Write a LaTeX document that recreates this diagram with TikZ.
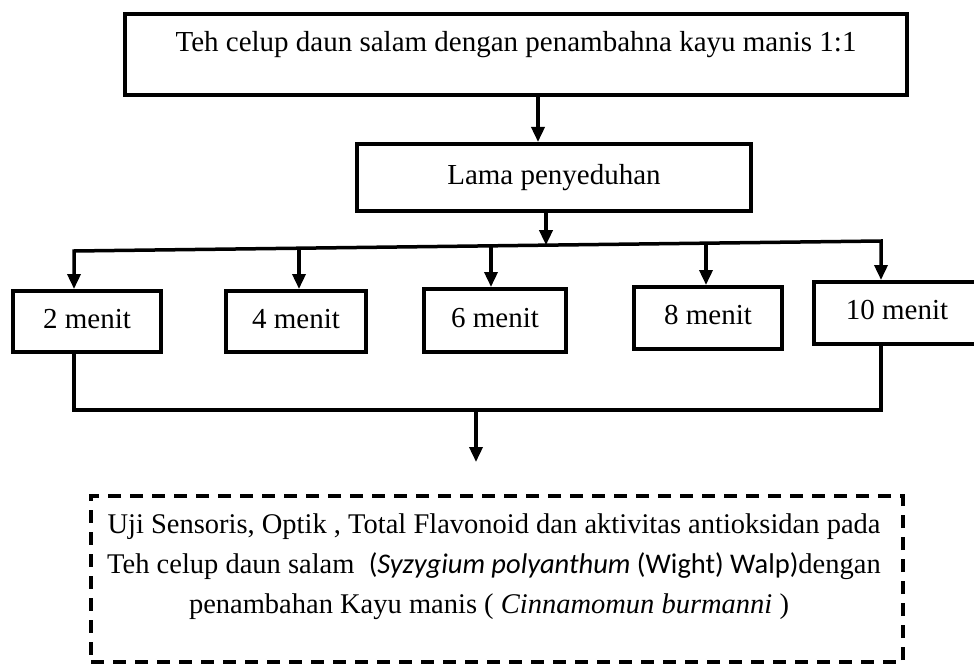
\documentclass[tikz,border=0pt]{standalone}
\usepackage{fontspec}
\setmainfont{Liberation Serif}
\newfontfamily\calibrifont{Carlito}
\usetikzlibrary{arrows.meta}
\begin{document}
\begin{tikzpicture}[x=1pt,y=-1pt,
  box/.style={draw, line width=4pt, inner sep=0pt, text height=20pt, text depth=7pt,
              font=\fontsize{29pt}{40pt}\selectfont},
  conn/.style={line width=3.5pt},
  arr/.style={conn, -{Triangle[length=15pt,width=13pt]}},
  dashbox/.style={draw, line width=4pt, dash pattern=on 13pt off 9pt, inner sep=0pt},
  txt/.style={inner sep=0pt, anchor=base, font=\fontsize{28.5pt}{40pt}\selectfont}
]
\useasboundingbox (0,0) rectangle (974,666);
\clip (0,0) rectangle (974,666);

% boxes
\node[box, minimum width=782pt, minimum height=81pt, text depth=25pt] (top) at (516,54.5)
  {Teh celup daun salam dengan penambahna kayu manis 1:1};
\node[box, minimum width=394pt, minimum height=67pt] (lama) at (554,177.5) {Lama penyeduhan};
\node[box, minimum width=148pt, minimum height=61pt] (m2) at (87,321.5) {2 menit};
\node[box, minimum width=140pt, minimum height=61pt] (m4) at (296,321.5) {4 menit};
\node[box, minimum width=142pt, minimum height=63pt] (m6) at (495,320.5) {6 menit};
\node[box, minimum width=148pt, minimum height=62pt] (m8) at (708,318) {8 menit};
\node[box, minimum width=166pt, minimum height=62pt] (m10) at (897,313) {10 menit};

\node[dashbox, minimum width=812pt, minimum height=166pt] (hasil) at (497,579) {};
\node[txt] (t1) at (494,533) {Uji Sensoris, Optik , Total Flavonoid dan aktivitas antioksidan pada};
\node[txt] (t2) at (494,573) {Teh celup daun salam\ \ {\calibrifont(\itshape Syzygium polyanthum\upshape{} (Wight) Walp)}dengan};
\node[txt] (t3) at (489,613) {penambahan Kayu manis ( \textit{Cinnamomun burmanni} )};

% coordinates
\coordinate (jt) at (538,120);
\coordinate (jl) at (546,245.2);
\coordinate (j2) at (74,251);
\coordinate (j4) at (299,248.2);
\coordinate (j6) at (491,245.8);
\coordinate (j8) at (706,243.2);
\coordinate (j10) at (881,241);
\coordinate (c2) at (74,410);
\coordinate (c10) at (881,410);
\coordinate (cm) at (476,410);
\coordinate (ce) at (476,462);

% connectors
\draw[arr] (top.south -| jt) -- (lama.north -| jt);
\draw[arr] (lama.south -| jl) -- (jl);
\draw[conn, {Triangle[length=15pt,width=13pt]}-{Triangle[length=15pt,width=13pt]}]
  (j2 |- m2.north) -- (j2) -- (j10) -- (j10 |- m10.north);
\draw[arr] (j4) -- (j4 |- m4.north);
\draw[arr] (j6) -- (j6 |- m6.north);
\draw[arr] (j8) -- (j8 |- m8.north);
\draw[conn] (m2.south -| c2) -- (c2) -- (c10) -- (m10.south -| c10);
\draw[arr] (cm) -- (ce);
\end{tikzpicture}
\end{document}
